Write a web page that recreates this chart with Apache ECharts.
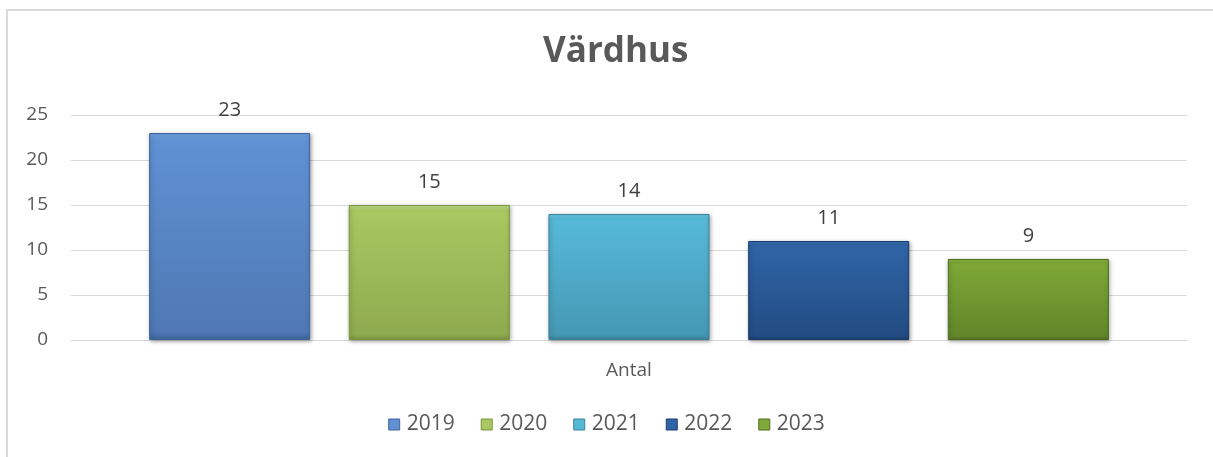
<!DOCTYPE html>
<html>
<head>
<meta charset="utf-8">
<script src="https://cdn.jsdelivr.net/npm/echarts@6/dist/echarts.min.js"></script>
<style>
  html, body { margin: 0; padding: 0; background: #fff; }
  #chart { width: 1213px; height: 457px; }
</style>
</head>
<body>
<div id="chart"></div>
<script>
const categories = ["Antal"];
const years = ["2019", "2020", "2021", "2022", "2023"];
const values = [23, 15, 14, 11, 9];
const yTicks = [0, 5, 10, 15, 20, 25];

// top / bottom shades per year, Excel-like bevel look
const topColors = ["#6fa2e2", "#c4e088", "#6ccbe6", "#3a74ba", "#90bd42"];
const bodyColors = ["#5f91d3", "#a9c862", "#56b9d8", "#2f64a6", "#7ea837"];
const bottomColors = ["#4f78b4", "#8fab4f", "#4599b5", "#234d83", "#62862a"];
const edgeColors = ["#3f659c", "#7a9640", "#3a8199", "#1b3d6b", "#4f6e20"];

const font = "'Open Sans', 'Noto Sans', sans-serif";
const chart = echarts.init(document.getElementById("chart"));

function barStyle(i) {
  return {
    color: new echarts.graphic.LinearGradient(0, 0, 0, 1, [
      { offset: 0, color: topColors[i] },
      { offset: 0.04, color: bodyColors[i] },
      { offset: 0.96, color: bottomColors[i] },
      { offset: 1, color: edgeColors[i] }
    ]),
    borderColor: edgeColors[i],
    borderWidth: 1,
    shadowColor: "rgba(0,0,0,0.35)",
    shadowBlur: 4,
    shadowOffsetX: 1,
    shadowOffsetY: 1
  };
}

chart.setOption({
  animation: false,
  backgroundColor: "#fff",
  textStyle: { fontFamily: font },
  graphic: [
    { type: "line", shape: { x1: 7, y1: 10, x2: 7, y2: 457 }, style: { stroke: "#d9d9d9", lineWidth: 2 }, silent: true },
    { type: "line", shape: { x1: 6, y1: 10, x2: 1213, y2: 10 }, style: { stroke: "#d9d9d9", lineWidth: 2 }, silent: true }
  ],
  title: {
    text: "Värdhus",
    left: 538,
    top: 30,
    textStyle: { fontFamily: font, fontWeight: "bold", fontSize: 35, color: "#595959" }
  },
  grid: { left: 71, right: 26, top: 115, bottom: 117 },
  legend: {
    bottom: 17,
    left: "center",
    itemWidth: 11,
    itemHeight: 11,
    itemGap: 26,
    icon: "rect",
    textStyle: { fontFamily: font, fontSize: 21, color: "#595959", padding: [0, 0, 0, 2] },
    data: years.map((y, i) => ({ name: y, itemStyle: { color: bodyColors[i], borderColor: edgeColors[i], borderWidth: 1 } }))
  },
  xAxis: {
    type: "category",
    data: categories,
    axisLine: { show: true, lineStyle: { color: "#d9d9d9", width: 1 } },
    axisTick: { show: false },
    axisLabel: { fontFamily: font, fontSize: 19, color: "#595959", margin: 21 }
  },
  yAxis: {
    type: "value",
    min: yTicks[0],
    max: yTicks[yTicks.length - 1],
    interval: yTicks[1] - yTicks[0],
    axisLine: { show: false },
    axisTick: { show: false },
    axisLabel: { fontFamily: font, fontSize: 19, color: "#595959", margin: 23 },
    splitLine: { lineStyle: { color: "#d9d9d9", width: 1 } }
  },
  series: years.map((y, i) => ({
    name: y,
    type: "bar",
    data: [values[i]],
    barGap: "24%",
    barCategoryGap: "14%",
    itemStyle: barStyle(i),
    label: {
      show: true,
      position: "top",
      distance: 13,
      fontFamily: font,
      fontSize: 20,
      color: "#404040"
    }
  }))
});
</script>
</body>
</html>
